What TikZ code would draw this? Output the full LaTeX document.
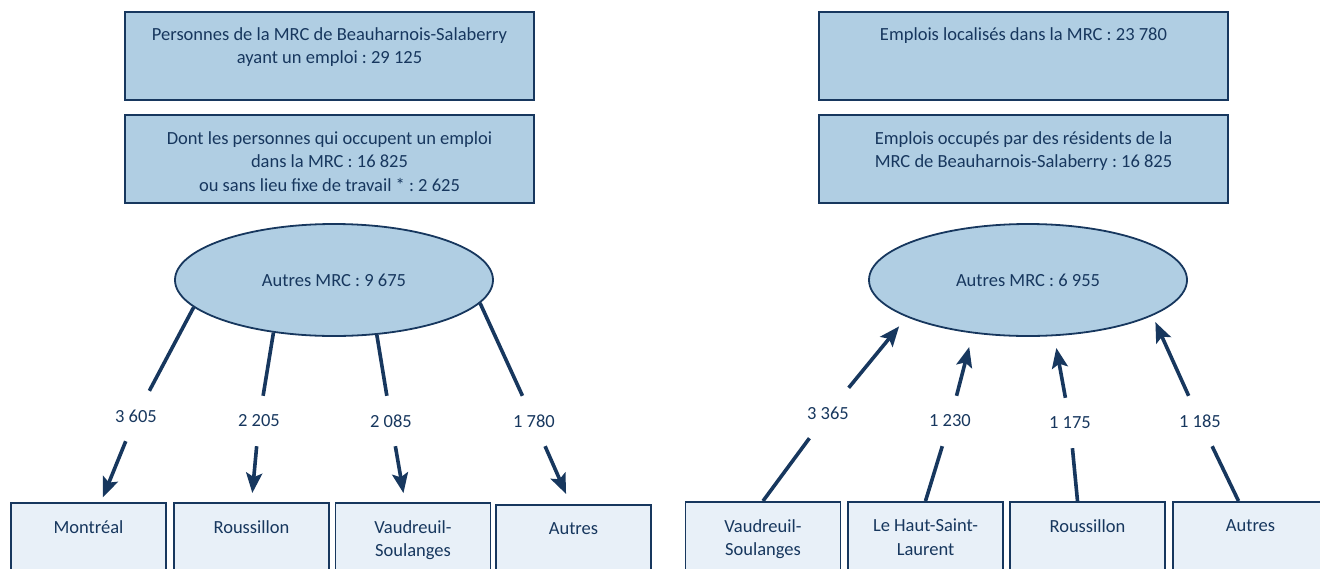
\documentclass[tikz,border=0pt]{standalone}
\usepackage{fontspec}
\setmainfont{Carlito}
\usetikzlibrary{arrows.meta, shapes.geometric}
\definecolor{navy}{RGB}{23,55,94}
\definecolor{boxblue}{RGB}{176,206,227}
\definecolor{paleblue}{RGB}{232,240,248}
\frenchspacing

\begin{document}
\begin{tikzpicture}[x=1pt, y=-1pt,
  every node/.style={text=navy, font=\fontsize{18.5}{23.5}\selectfont},
  topbox/.style={draw=navy, line width=1.8pt, fill=boxblue, minimum width=409pt, minimum height=88pt, inner sep=0pt},
  bubble/.style={ellipse, draw=navy, line width=1.8pt, fill=boxblue, minimum width=318pt, minimum height=112pt, inner sep=0pt},
  region/.style={draw=navy, line width=1.8pt, fill=paleblue, minimum width=155pt, minimum height=120pt, anchor=north, inner sep=0pt},
  txt/.style={anchor=north, align=center, inner sep=0pt},
  count/.style={minimum width=44pt, minimum height=50pt, inner sep=0pt},
  flow/.style={navy, line width=3.6pt},
  arr/.style={flow, -{Stealth[length=20pt, width=16pt, inset=4pt]}}]
  \useasboundingbox (0,0) rectangle (1320,568);
  \clip (0,0) rectangle (1320,568);

  % left: where the residents work
  \node[topbox] (lbox1) at (329.5,56) {};
  \node[txt] (ltxt1) at ([yshift=-16pt]lbox1.north) {Personnes de la MRC de Beauharnois-Salaberry\\ayant un emploi : 29 125};
  \node[topbox] (lbox2) at (329.5,159) {};
  \node[txt] (ltxt2) at ([yshift=-17pt]lbox2.north) {Dont les personnes qui occupent un emploi\\dans la MRC : 16 825\\ou sans lieu fixe de travail * : 2 625};

  \node[bubble] (lell) at (334,280) {Autres MRC : 9 675};

  \node[region] (lmtl) at (88.5,502) {};
  \node[txt] (tmtl) at ([yshift=-18pt]lmtl.north) {Montréal};
  \node[region] (lrou) at (251.5,502) {};
  \node[txt] (trou) at ([yshift=-18pt]lrou.north) {Roussillon};
  \node[region] (lvau) at (413,502) {};
  \node[txt] (tvau) at ([yshift=-18pt]lvau.north) {Vaudreuil-\\Soulanges};
  \node[region] (laut) at (573.5,504) {};
  \node[txt] (taut) at ([yshift=-18pt]laut.north) {Autres};

  \node[count] (n1) at (136,416) {3 605};
  \node[count] (n2) at (259,421) {2 205};
  \node[count] (n3) at (391,421) {2 085};
  \node[count] (n4) at (534,421) {1 780};

  \draw[flow] (lell.191) -- (n1);
  \draw[arr, shorten >=5pt] (n1) -- ([xshift=12.5pt]lmtl.north);
  \draw[flow] (lell.221) -- (n2);
  \draw[arr, shorten >=9pt] (n2) -- (lrou.north);
  \draw[flow] (lell.308) -- (n3);
  \draw[arr, shorten >=9pt] (n3) -- ([xshift=-8pt]lvau.north);
  \draw[flow] (lell.351.6) -- (n4);
  \draw[arr, shorten >=11pt] (n4) -- ([xshift=-3pt]laut.north);

  % right: who fills the jobs
  \node[topbox] (rbox1) at (1023.5,56) {};
  \node[txt] (rtxt1) at ([yshift=-16pt]rbox1.north) {Emplois localisés dans la MRC : 23 780};
  \node[topbox] (rbox2) at (1023.5,159) {};
  \node[txt] (rtxt2) at ([yshift=-17pt]rbox2.north) {Emplois occupés par des résidents de la\\MRC de Beauharnois-Salaberry : 16 825};

  \node[bubble] (rell) at (1028,280) {Autres MRC : 6 955};

  \node[region] (rvau) at (763,501) {};
  \node[txt] (svau) at ([yshift=-18pt]rvau.north) {Vaudreuil-\\Soulanges};
  \node[region] (rhsl) at (925.5,501) {};
  \node[txt] (shsl) at ([yshift=-18pt]rhsl.north) {Le Haut-Saint-\\Laurent};
  \node[region] (rrou) at (1087.5,501) {};
  \node[txt] (srou) at ([yshift=-18pt]rrou.north) {Roussillon};
  \node[region] (raut) at (1250.5,501) {};
  \node[txt] (saut) at ([yshift=-18pt]raut.north) {Autres};

  \node[count] (m1) at (828,413) {3 365};
  \node[count] (m2) at (950,421) {1 230};
  \node[count] (m3) at (1070,423) {1 175};
  \node[count] (m4) at (1200,421) {1 185};

  \draw[flow] (rvau.north) -- (m1);
  \draw[arr, shorten >=12pt] (m1) -- (rell.197);
  \draw[flow] (rhsl.north) -- (m2);
  \draw[arr, shorten >=14pt] (m2) -- (rell.224.5);
  \draw[flow] ([xshift=-10pt]rrou.north) -- (m3);
  \draw[arr, shorten >=12pt] (m3) -- (rell.295.8);
  \draw[flow] ([xshift=-12pt]raut.north) -- (m4);
  \draw[arr, shorten >=7pt] (m4) -- (rell.344.7);
\end{tikzpicture}
\end{document}
